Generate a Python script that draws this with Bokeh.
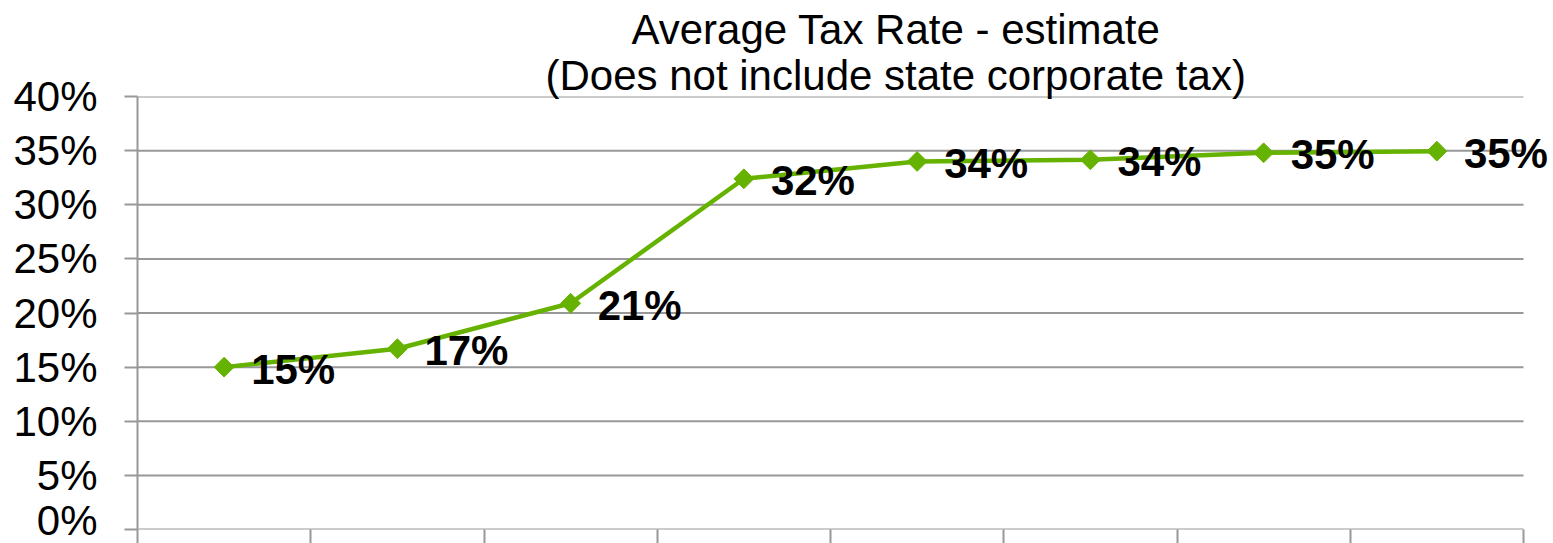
import math
from bokeh.plotting import figure
from bokeh.models import (Title, FixedTicker, NumeralTickFormatter, ColumnDataSource,
                          Range1d, LabelSet, CustomJSTickFormatter)
from bokeh.core.properties import value
from bokeh.embed import file_html
from bokeh.resources import INLINE

# ---- data ----
brackets = ["1", "2", "3", "4", "5", "6", "7", "8"]
rates = [0.150, 0.167, 0.209, 0.324, 0.340, 0.3415, 0.348, 0.3495]
y_ticks = [0.0, 0.05, 0.10, 0.15, 0.20, 0.25, 0.30, 0.35, 0.40]
title_line1 = "Average Tax Rate - estimate"
title_line2 = "(Does not include state corporate tax)"

GREEN = "#66B200"
GRAY = "#989898"
FONT = "Liberation Sans"

n = len(brackets)
xs = [i + 0.5 for i in range(n)]
labels = [f"{round(r * 100)}%" for r in rates]
src = ColumnDataSource(dict(x=xs, y=rates, label=labels))

CAT_PX = 173.25          # pixel width of one category
FRAME_W = 1416           # frame runs to the right edge so the last label fits
p = figure(frame_width=FRAME_W, frame_height=433,
           x_range=Range1d(0, FRAME_W / CAT_PX), y_range=Range1d(0, 0.40),
           output_backend="svg", toolbar_location=None, title=None,
           min_border_left=137, min_border_right=0,
           min_border_top=96, min_border_bottom=0)
p.outline_line_color = None
p.background_fill_color = "white"
p.border_fill_color = "white"

# titles (added nearest-first)
t2 = Title(text=title_line2, align="left", offset=408, text_font_size="42px",
           text_font=FONT, text_font_style="normal", text_color="black", standoff=-4)
t1 = Title(text=title_line1, align="left", offset=494, text_font_size="42px",
           text_font=FONT, text_font_style="normal", text_color="black", standoff=-2)
p.add_layout(t2, "above")
p.add_layout(t1, "above")

# y axis
ya = p.yaxis[0]
ya.ticker = FixedTicker(ticks=y_ticks)
ya.formatter = NumeralTickFormatter(format="0%")
ya.major_label_text_font_size = "42px"
ya.major_label_text_font = FONT
ya.major_label_text_color = "black"
ya.major_tick_out = 13
ya.major_tick_in = 0
ya.minor_tick_line_color = None
ya.major_tick_line_color = GRAY
ya.major_tick_line_width = 2
ya.axis_line_color = GRAY
ya.axis_line_width = 2
ya.major_label_standoff = 27

# x axis (ticks only, no labels)
xa = p.xaxis[0]
xa.ticker = FixedTicker(ticks=list(range(n + 1)))
xa.formatter = CustomJSTickFormatter(code="return ''")
xa.major_label_standoff = 0
xa.major_tick_out = 14
xa.major_tick_in = 0
xa.minor_tick_line_color = None
xa.major_tick_line_color = GRAY
xa.major_tick_line_width = 2
xa.axis_line_color = None

p.xgrid.visible = False
p.ygrid.visible = False
# horizontal gridlines spanning the category area only
p.segment(x0=[0] * len(y_ticks), x1=[n] * len(y_ticks), y0=y_ticks, y1=y_ticks,
          line_color=GRAY, line_width=2)

p.line("x", "y", source=src, line_color=GREEN, line_width=4.5)
p.scatter("x", "y", source=src, marker="square", angle=math.pi / 4, size=14,
          fill_color=GREEN, line_color=GREEN)

ls = LabelSet(x="x", y="y", text="label", source=src, x_offset=27, y_offset=-2,
              text_baseline="middle", text_align="left", text_font=value(FONT),
              text_font_style="bold", text_font_size="42px", text_color="black")
p.add_layout(ls)

open("out.html", "w").write(file_html(p, INLINE))
